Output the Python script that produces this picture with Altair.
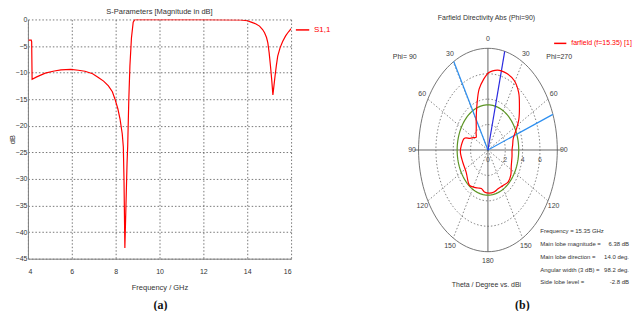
import altair as alt
import numpy as np
import pandas as pd

# ---------------- (a) S-parameter data ----------------
freq_ghz = [4.03, 4.15, 4.17, 4.19, 4.4, 4.79, 5.2, 5.51, 5.95, 6.3, 6.6, 6.95, 7.21, 7.45, 7.67,
            7.85, 7.97, 8.1, 8.2, 8.3, 8.35, 8.38, 8.42, 8.47, 8.52, 8.55, 8.6, 8.65, 8.72, 8.8,
            8.87, 9.5, 12.0, 13.7, 14.0, 14.18, 14.4, 14.56, 14.7, 14.79, 14.88, 14.94, 15.0,
            15.06, 15.12, 15.17, 15.22, 15.27, 15.33, 15.39, 15.5, 15.62, 15.75, 15.85, 16.0]
s11_db = [-3.9, -3.9, -4.2, -11.25, -10.8, -10.1, -9.7, -9.5, -9.4, -9.55, -9.75, -10.2, -10.9,
          -11.6, -12.5, -13.6, -15.0, -16.8, -18.75, -21.5, -24.0, -30.0, -43.0, -35.0, -27.0,
          -23.7, -15.0, -8.75, -3.5, -0.5, -0.05, -0.05, -0.05, -0.1, -0.25, -0.5, -0.85, -1.25,
          -1.9, -2.5, -3.4, -4.4, -6.3, -8.75, -11.5, -14.2, -12.4, -10.6, -8.6, -6.9, -5.3,
          -4.1, -3.1, -2.5, -1.75]
s_series = "S1,1"
x_ticks = [4, 6, 8, 10, 12, 14, 16]
y_ticks = [-45, -40, -35, -30, -25, -20, -15, -10, -5, 0]
left_title = "S-Parameters [Magnitude in dB]"

# ---------------- (b) farfield polar data ----------------
theta_deg = [0, 5, 10, 14, 20, 29, 38, 46, 56, 63, 73, 82, 90, 100, 115, 127, 137, 148, 159, 168,
             177, 187, 194, 201, 208, 217, 222, 235, 252, 267, 276, 289, 294, 300, 306, 314, 321,
             331, 340, 348, 355, 360]
gain_dbi = [6.05, 6.25, 6.38, 6.42, 6.4, 6.25, 5.75, 5.05, 4.3, 3.7, 3.05, 2.88, 2.78, 2.82, 2.97,
            3.3, 3.43, 3.3, 3.27, 3.38, 3.4, 3.33, 3.12, 3.2, 3.33, 3.5, 3.4, 3.06, 3.06, 3.18,
            3.1, 2.86, 2.26, 1.95, 1.69, 1.9, 2.14, 2.79, 3.72, 4.9, 5.6, 6.05]
ff_series = "farfield (f=15.35) [1]"
ring_levels = [2, 4, 6]
outer_level = 8
level_3db = 3.55
spoke_angles = [30, 60, 120, 150, 210, 240, 300, 330]
axis_angles = [0, 90, 180, 270]
axis_lengths = [8, 8.5, 8, 8.5]
label_angles = [0, 30, 60, 90, 120, 150, 180, 210, 240, 270, 300, 330]
label_texts = ["0", "30", "60", "90", "120", "150", "180", "150", "120", "90", "60", "30"]
radial_ticks = [0, 2, 4, 6]
main_lobe_angle = [14]
beam_edge_angles = [330.5, 69.5]
right_title = "Farfield Directivity Abs (Phi=90)"
info_labels = ["Frequency = 15.35 GHz", "Main lobe magnitude =", "Main lobe direction =",
               "Angular width (3 dB) =", "Side lobe level ="]
info_values = ["", "6.38 dB", "14.0 deg.", "98.2 deg.", "-2.8 dB"]

FONT = "Liberation Sans"
TXT = "#333333"

# ================= left panel =================
s_df = pd.DataFrame({"freq": freq_ghz, "db": s11_db, "series": s_series})
xs_l = alt.Scale(domain=[4, 16], nice=False, zero=False)
ys_l = alt.Scale(domain=[-45, 0], nice=False, zero=False)

left_line = alt.Chart(s_df).mark_line(strokeWidth=1.2, clip=True).encode(
    x=alt.X("freq:Q", scale=xs_l,
            axis=alt.Axis(values=x_ticks, title="Frequency / GHz", tickSize=0, labelPadding=9,
                          titlePadding=9)),
    y=alt.Y("db:Q", scale=ys_l,
            axis=alt.Axis(values=y_ticks, title="dB", tickSize=0, labelPadding=1,
                          titlePadding=-1)),
    color=alt.Color("series:N", scale=alt.Scale(domain=[s_series], range=["#ff0000"]),
                    legend=alt.Legend(title=None, orient="none", legendX=268, legendY=3,
                                      symbolType="stroke", symbolStrokeWidth=1.5,
                                      symbolSize=180, labelColor="#ff0000", labelFontSize=8,
                                      labelFont=FONT)),
)

left_title_mark = alt.Chart(pd.DataFrame({"t": [left_title]})).mark_text(
    font=FONT, fontSize=7.5, color=TXT, baseline="middle", align="center"
).encode(text="t:N", x=alt.value(132), y=alt.value(-7))

a_mark = alt.Chart(pd.DataFrame({"t": ["(a)"]})).mark_text(
    font="Liberation Serif", fontSize=12, fontWeight="bold", color="#111", baseline="middle",
    align="center"
).encode(text="t:N", x=alt.value(133), y=alt.value(286))

left = alt.layer(left_line, left_title_mark, a_mark).properties(
    width=264, height=240, view=alt.ViewBackground(stroke="#808080", strokeWidth=1)
)

# ================= right panel =================
xs_r = alt.Scale(domain=[-10.63, 16.27], nice=False, zero=False)
ys_r = alt.Scale(domain=[-8.55, 10.27], nice=False, zero=False)
XQ = lambda f: alt.X(f, type="quantitative", scale=xs_r, axis=None)
YQ = lambda f: alt.Y(f, type="quantitative", scale=ys_r, axis=None)
X2 = lambda f: alt.X2(f)
Y2 = lambda f: alt.Y2(f)

def polar(chart, r, a, px="px", py="py"):
    return chart.transform_calculate(
        **{px: f"({r})*sin(({a})*PI/180)", py: f"({r})*cos(({a})*PI/180)"}
    )

ring_ang = list(range(0, 361, 3))
rings_df = pd.DataFrame([(lv, a) for lv in ring_levels for a in ring_ang], columns=["lv", "ang"])
outer_df = pd.DataFrame({"lv": outer_level, "ang": ring_ang})
green_df = pd.DataFrame({"lv": level_3db, "ang": ring_ang})

rings = polar(alt.Chart(rings_df), "datum.lv", "datum.ang").mark_line(
    color="#666", strokeWidth=0.8, strokeDash=[1.5, 2]
).encode(x=XQ("px"), y=YQ("py"), detail="lv:N", order="ang:Q")

outer = polar(alt.Chart(outer_df), "datum.lv", "datum.ang").mark_line(
    color="#666", strokeWidth=0.9
).encode(x=XQ("px"), y=YQ("py"), order="ang:Q")

green = polar(alt.Chart(green_df), "datum.lv", "datum.ang").mark_line(
    color="#5c9424", strokeWidth=1.2
).encode(x=XQ("px"), y=YQ("py"), order="ang:Q")

spokes_df = pd.DataFrame({"ang": spoke_angles, "r": outer_level})
spokes = polar(alt.Chart(spokes_df), "datum.r", "datum.ang", "ex", "ey").transform_calculate(
    cx="0", cy="0").mark_rule(color="#666", strokeWidth=0.8, strokeDash=[1.5, 2]).encode(
    x=XQ("cx"), y=YQ("cy"), x2=X2("ex"), y2=Y2("ey"))

axes_df = pd.DataFrame({"ang": axis_angles, "r": axis_lengths})
axes_lines = polar(alt.Chart(axes_df), "datum.r", "datum.ang", "ex", "ey").transform_calculate(
    cx="0", cy="0").mark_rule(color="#555", strokeWidth=0.9).encode(
    x=XQ("cx"), y=YQ("cy"), x2=X2("ex"), y2=Y2("ey"))

main_df = pd.DataFrame({"ang": main_lobe_angle, "r": outer_level})
main_line = polar(alt.Chart(main_df), "datum.r", "datum.ang", "ex", "ey").transform_calculate(
    cx="0", cy="0").mark_rule(color="#2a2ae0", strokeWidth=1.2).encode(
    x=XQ("cx"), y=YQ("cy"), x2=X2("ex"), y2=Y2("ey"))

edge_df = pd.DataFrame({"ang": beam_edge_angles, "r": outer_level})
edge_lines = polar(alt.Chart(edge_df), "datum.r", "datum.ang", "ex", "ey").transform_calculate(
    cx="0", cy="0").mark_rule(color="#2d8ff0", strokeWidth=1.2).encode(
    x=XQ("cx"), y=YQ("cy"), x2=X2("ex"), y2=Y2("ey"))

pat_df = pd.DataFrame({"theta": theta_deg, "gain": gain_dbi, "series": ff_series})
pattern = polar(alt.Chart(pat_df), "datum.gain", "datum.theta").mark_line(
    strokeWidth=1.2, interpolate="catmull-rom"
).encode(
    x=XQ("px"), y=YQ("py"), order="theta:Q",
    color=alt.Color("series:N", scale=alt.Scale(domain=[ff_series], range=["#ff0000"]),
                    legend=alt.Legend(title=None, orient="none", legendX=158, legendY=17,
                                      symbolType="stroke", symbolStrokeWidth=1.5,
                                      symbolSize=150, labelColor="#ff0000", labelFontSize=7,
                                      labelFont=FONT)),
)

lab_df = pd.DataFrame({"ang": label_angles, "t": label_texts, "r": 8.75})
ang_labels = polar(alt.Chart(lab_df), "datum.r", "datum.ang").mark_text(
    font=FONT, fontSize=7, color="#444", baseline="middle", align="center"
).encode(x=XQ("px"), y=YQ("py"), text="t:N")

rt_df = pd.DataFrame({"v": radial_ticks, "ang": 90})
rt_labels = polar(alt.Chart(rt_df), "datum.v", "datum.ang").mark_text(
    font=FONT, fontSize=7, color="#555", baseline="middle", align="center", dy=10
).encode(x=XQ("px"), y=YQ("py"), text="v:Q")

def note(text, x, y, size=7, align="center", color=TXT, font=FONT, weight="normal"):
    return alt.Chart(pd.DataFrame({"t": [text]})).mark_text(
        font=font, fontSize=size, color=color, baseline="middle", align=align, fontWeight=weight
    ).encode(text="t:N", x=alt.value(x), y=alt.value(y))

notes = [
    note(right_title, 91, -1),
    note("Phi= 90", 9, 38),
    note("Phi=270", 164, 38),
    note("Theta / Degree vs. dBi", 91, 266),
    note("(b)", 127, 286, size=12, color="#111", font="Liberation Serif", weight="bold"),
]
info_y = [212, 225, 238, 251, 263]
for lbl, val, yy in zip(info_labels, info_values, info_y):
    notes.append(note(lbl, 145, yy, size=6, align="left"))
    if val:
        notes.append(note(val, 234, yy, size=6, align="right"))

right = alt.layer(rings, outer, spokes, axes_lines, green, edge_lines, main_line, pattern,
                  ang_labels, rt_labels, *notes).properties(
    width=234, height=240, view=alt.ViewBackground(strokeOpacity=0)
)

chart = alt.hconcat(left, right, spacing=105, bounds="flush").resolve_scale(
    color="independent").resolve_legend(color="independent").properties(
    padding={"left": 0, "top": 0, "right": 0, "bottom": 0}
).configure_view(strokeOpacity=0).configure_axis(
    labelFont=FONT, labelFontSize=7, labelColor=TXT, titleFont=FONT, titleFontSize=7.5,
    titleColor=TXT, titleFontWeight="normal", domainColor="#808080", gridColor="#555",
    gridDash=[1.5, 2], gridWidth=0.8
)

chart.save("out.html", embed_options={"renderer": "svg", "actions": False})
